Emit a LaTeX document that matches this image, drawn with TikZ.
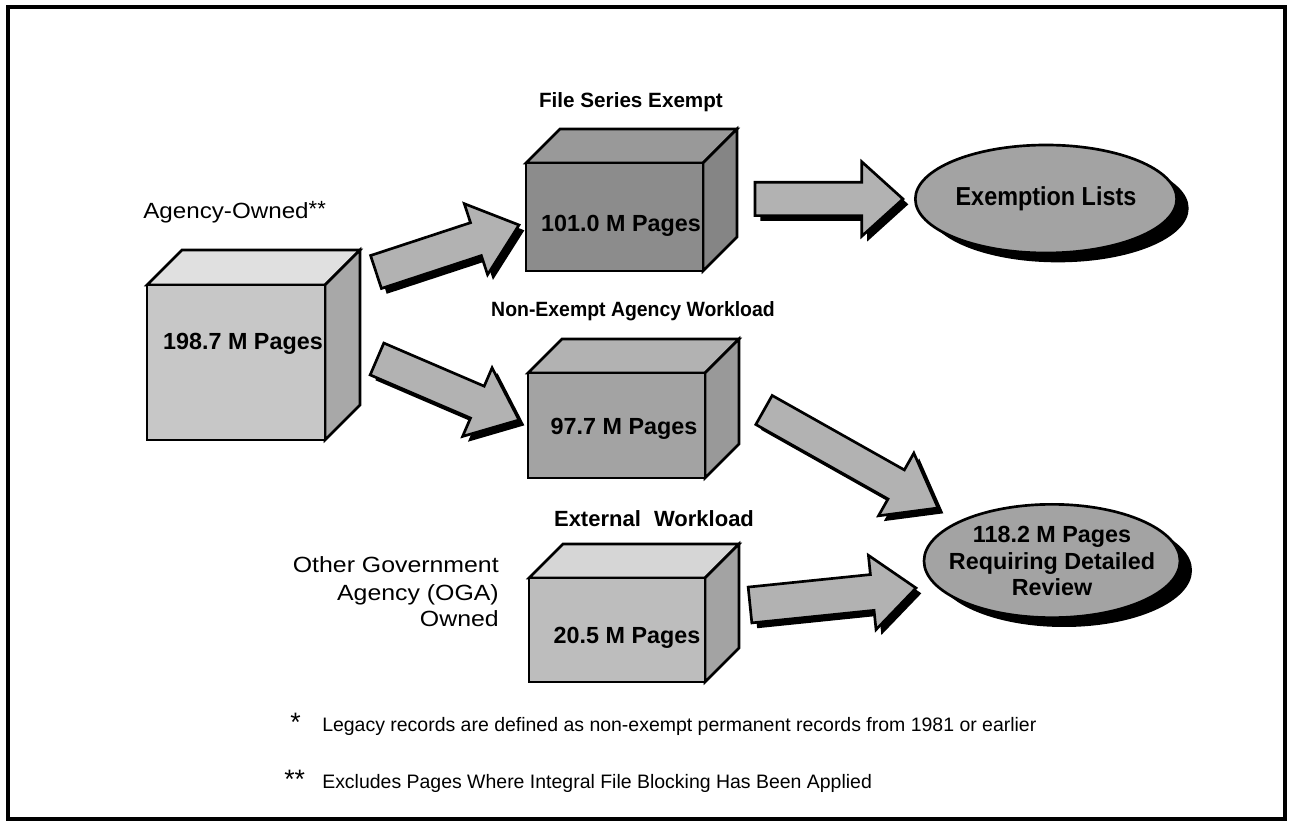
\documentclass[tikz,border=0pt]{standalone}
\usepackage{fontspec}
\setmainfont{Liberation Sans}
\usetikzlibrary{calc,shapes.geometric,shadows}
\newcommand{\hs}[2][1.13]{\scalebox{#1}[1]{#2}}
\definecolor{aTop}{gray}{0.88}\definecolor{aFront}{gray}{0.78}\definecolor{aSide}{gray}{0.66}
\definecolor{bTop}{gray}{0.60}\definecolor{bFront}{gray}{0.55}\definecolor{bSide}{gray}{0.52}
\definecolor{cTop}{gray}{0.70}\definecolor{cFront}{gray}{0.64}\definecolor{cSide}{gray}{0.60}
\definecolor{dTop}{gray}{0.84}\definecolor{dFront}{gray}{0.74}\definecolor{dSide}{gray}{0.64}
\definecolor{arrFill}{gray}{0.70}
\definecolor{ellFill}{gray}{0.64}
% cuboid: x1 y1 x2 y2 depth top front side name
\newcommand{\cuboid}[9]{%
  \filldraw[boxline, fill=#6] (#1,#2) -- ({#1+#5},{#2-#5}) -- ({#3+#5},{#2-#5}) -- (#3,#2) -- cycle;
  \filldraw[boxline, fill=#8] (#3,#2) -- ({#3+#5},{#2-#5}) -- ({#3+#5},{#4-#5}) -- (#3,#4) -- cycle;
  \filldraw[boxline, fill=#7] (#1,#2) rectangle (#3,#4);
  \coordinate (#9) at ({(#1+#3)/2},{(#2+#4)/2});
}
% block arrow: start, tip, shaft half width, head half width, head length
\newcommand{\barrow}[5]{%
  \coordinate (bb) at ($(#2)!#5!(#1)$);
  \filldraw[blockarrow]
    ($(#1)!#3!90:(#2)$) -- ($(bb)!#3!90:(#2)$) -- ($(bb)!#4!90:(#2)$) -- (#2)
    -- ($(bb)!#4!-90:(#2)$) -- ($(bb)!#3!-90:(#2)$) -- ($(#1)!#3!-90:(#2)$) -- cycle;
}
\begin{document}
\begin{tikzpicture}[x=0.75pt,y=-0.75pt,
  boxline/.style={draw=black, line width=2pt},
  blockarrow/.style={draw=black, line width=2pt, fill=arrFill,
     drop shadow={fill=black, opacity=1, shadow xshift=4pt, shadow yshift=-4pt}},
  ell/.style={ellipse, draw=black, line width=2pt, fill=ellFill, inner sep=0pt,
     drop shadow={fill=black, opacity=1, shadow xshift=9pt, shadow yshift=-7pt}},
  title/.style={font=\bfseries\fontsize{15.5}{18}\selectfont, anchor=base, inner sep=0pt},
  sidetext/.style={font=\fontsize{16.5}{20}\selectfont, anchor=base east, inner sep=0pt},
  boxlabel/.style={font=\bfseries\fontsize{17.5}{21}\selectfont, anchor=base, inner sep=0pt},
  ellabel/.style={font=\bfseries\fontsize{17.5}{20}\selectfont, align=center, inner sep=0pt},
  note/.style={font=\fontsize{14.6}{17}\selectfont, anchor=base west, inner sep=0pt},
  star/.style={font=\fontsize{20}{20}\selectfont, anchor=base west, inner sep=0pt}]
\useasboundingbox (0,0) rectangle (1290,823);
\fill[white] (0,0) rectangle (1290,823);
\draw[line width=3pt] (8,7) rectangle (1285,819);

% boxes
\cuboid{147}{285}{325}{440}{35}{aTop}{aFront}{aSide}{boxA}
\cuboid{526}{163}{703}{271}{34}{bTop}{bFront}{bSide}{boxB}
\cuboid{528}{373}{705}{478}{34}{cTop}{cFront}{cSide}{boxC}
\cuboid{529}{578}{705}{682}{34}{dTop}{dFront}{dSide}{boxD}

\node[boxlabel] (lA) at (243,350) {198.7 M Pages};
\node[boxlabel] (lB) at (621,232) {101.0 M Pages};
\node[boxlabel] (lC) at (624,435) {97.7 M Pages};
\node[boxlabel] (lD) at (627,643) {20.5 M Pages};

% titles
\node[title] (tB) at (631,108) {File Series Exempt};
\node[title] (tC) at (633,317) {\hs[0.94]{Non-Exempt Agency Workload}};
\node[title, font=\bfseries\fontsize{16.5}{19}\selectfont] (tD) at (654,527) {External\hspace{0.6em}Workload};
\node[sidetext, anchor=base west] (tA) at (143,219) {\hs[1.1]{Agency-Owned}\raisebox{0.12em}{**}};
\node[sidetext] (o1) at (499,573) {\hs{Other Government}};
\node[sidetext] (o2) at (499,600) {\hs{Agency (OGA)}};
\node[sidetext] (o3) at (499,627) {\hs{Owned}};

% ellipses
\node[ell, minimum width=196pt, minimum height=81pt] (ex) at (1046,199) {};
\node[ellabel] at (ex) {\hs[0.9]{\fontsize{19.5}{22}\selectfont Exemption Lists}};
\node[ell, minimum width=192pt, minimum height=85pt] (rev) at (1052,561) {};
\node[ellabel] at (rev) {118.2 M Pages\\Requiring Detailed\\Review};

% arrows
\coordinate (a1s) at (376,272); \coordinate (a1t) at (519,225);
\coordinate (a2s) at (377,359); \coordinate (a2t) at (519,420);
\coordinate (a3s) at (755,199); \coordinate (a3t) at (903,199);
\coordinate (a4s) at (764,410); \coordinate (a4t) at (938,508);
\coordinate (a5s) at (750,605); \coordinate (a5t) at (916,588);
\barrow{a1s}{a1t}{13pt}{28pt}{34pt}
\barrow{a2s}{a2t}{13pt}{28pt}{34pt}
\barrow{a3s}{a3t}{12.5pt}{28pt}{31pt}
\barrow{a4s}{a4t}{12.5pt}{27pt}{36pt}
\barrow{a5s}{a5t}{13.5pt}{28pt}{33pt}

% footnotes
\node[star] (s1) at (290,731) {*};
\node[note] (n1) at (322,731) {Legacy records are defined as non-exempt permanent records from 1981 or earlier};
\node[star] (s2) at (284,788) {**};
\node[note] (n2) at (322,788) {Excludes Pages Where Integral File Blocking Has Been Applied};
\end{tikzpicture}
\end{document}
